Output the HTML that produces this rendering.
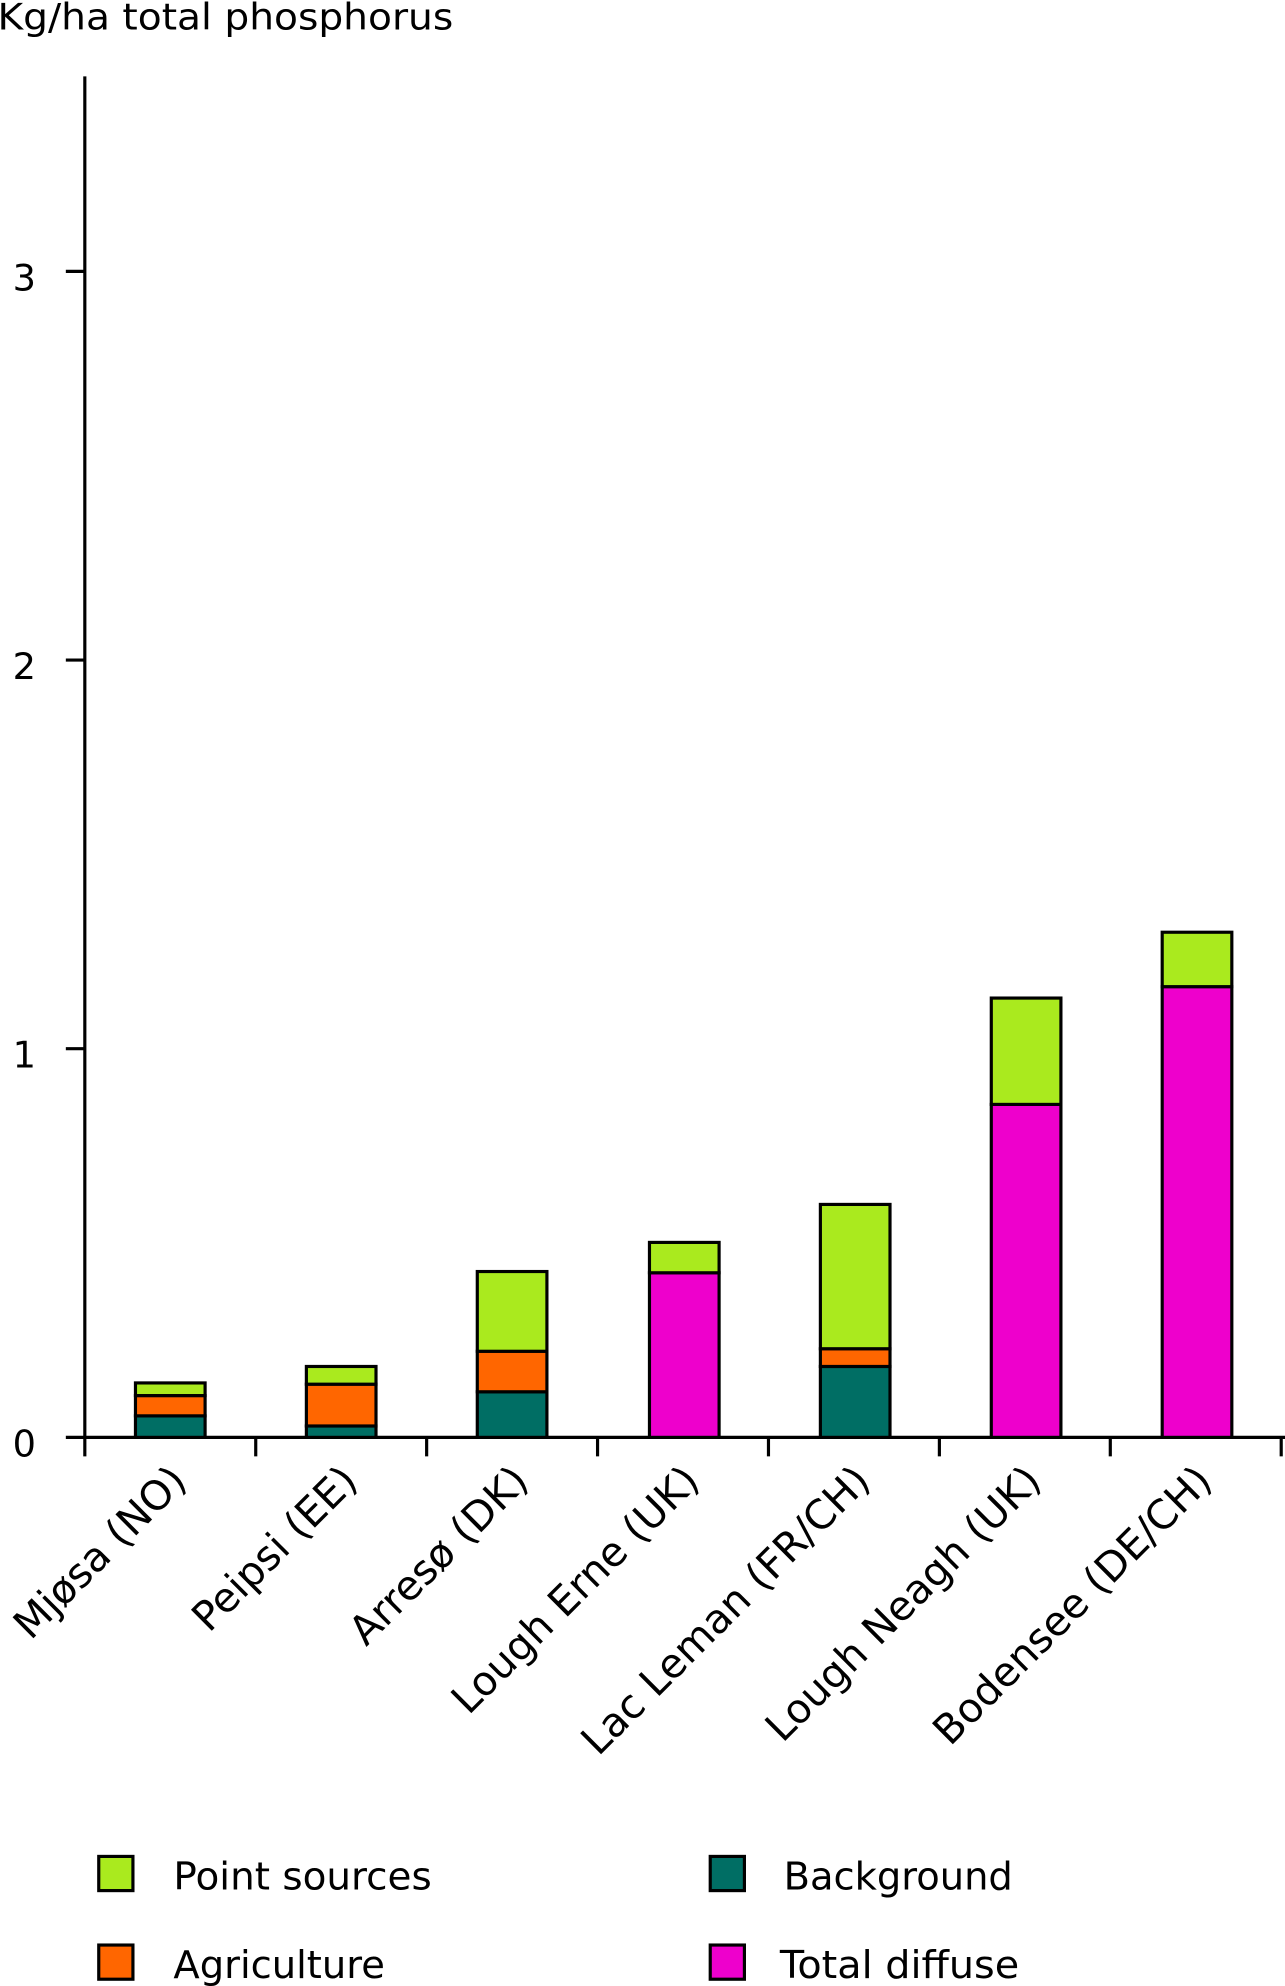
<!DOCTYPE html>
<html><head><meta charset="utf-8"><style>
html,body{margin:0;padding:0;background:#fff;}
svg{display:block;}
text{font-family:"DejaVu Sans","Liberation Sans",sans-serif;fill:#000;}
</style></head><body>
<svg width="1285" height="1986" viewBox="0 0 1015 1568" xmlns="http://www.w3.org/2000/svg">
<text x="-2" y="23" font-size="29" textLength="360" lengthAdjust="spacingAndGlyphs">Kg/ha total phosphorus</text>
<g stroke="#000" stroke-width="2.5" fill="none">
<line x1="67" y1="60" x2="67" y2="1150"/>
<line x1="67" y1="1135" x2="1015" y2="1135"/>
<line x1="52" y1="214" x2="67" y2="214"/>
<line x1="52" y1="521" x2="67" y2="521"/>
<line x1="52" y1="828" x2="67" y2="828"/>
<line x1="52" y1="1135" x2="67" y2="1135"/>
<line x1="202" y1="1135" x2="202" y2="1150"/>
<line x1="337" y1="1135" x2="337" y2="1150"/>
<line x1="472" y1="1135" x2="472" y2="1150"/>
<line x1="607" y1="1135" x2="607" y2="1150"/>
<line x1="742" y1="1135" x2="742" y2="1150"/>
<line x1="877" y1="1135" x2="877" y2="1150"/>
<line x1="1012" y1="1135" x2="1012" y2="1150"/>
</g>
<g font-size="29">
<text x="10" y="229">3</text>
<text x="10" y="536">2</text>
<text x="10" y="843">1</text>
<text x="10" y="1150">0</text>
</g>
<g stroke="#000" stroke-width="2.5">
<rect x="107" y="1118" width="55" height="17" fill="#006e64"/>
<rect x="107" y="1102" width="55" height="16" fill="#ff6600"/>
<rect x="107" y="1092" width="55" height="10" fill="#aaea1e"/>
<rect x="242" y="1126" width="55" height="9" fill="#006e64"/>
<rect x="242" y="1093" width="55" height="33" fill="#ff6600"/>
<rect x="242" y="1079" width="55" height="14" fill="#aaea1e"/>
<rect x="377" y="1099" width="55" height="36" fill="#006e64"/>
<rect x="377" y="1067" width="55" height="32" fill="#ff6600"/>
<rect x="377" y="1004" width="55" height="63" fill="#aaea1e"/>
<rect x="513" y="1005" width="55" height="130" fill="#ee00cc"/>
<rect x="513" y="981" width="55" height="24" fill="#aaea1e"/>
<rect x="648" y="1079" width="55" height="56" fill="#006e64"/>
<rect x="648" y="1065" width="55" height="14" fill="#ff6600"/>
<rect x="648" y="951" width="55" height="114" fill="#aaea1e"/>
<rect x="783" y="872" width="55" height="263" fill="#ee00cc"/>
<rect x="783" y="788" width="55" height="84" fill="#aaea1e"/>
<rect x="918" y="779" width="55" height="356" fill="#ee00cc"/>
<rect x="918" y="736" width="55" height="43" fill="#aaea1e"/>
</g>
<g font-size="32" text-anchor="end">
<text transform="translate(149,1171) rotate(-45)">Mjøsa (NO)</text>
<text transform="translate(284,1171) rotate(-45)">Peipsi (EE)</text>
<text transform="translate(419,1171) rotate(-45)">Arresø (DK)</text>
<text transform="translate(554,1171) rotate(-45)">Lough Erne (UK)</text>
<text transform="translate(689,1171) rotate(-45)">Lac Leman (FR/CH)</text>
<text transform="translate(824,1171) rotate(-45)">Lough Neagh (UK)</text>
<text transform="translate(959,1171) rotate(-45)">Bodensee (DE/CH)</text>
</g>
<g stroke="#000" stroke-width="2.5">
<rect x="78" y="1466" width="27" height="27" fill="#aaea1e"/>
<rect x="78" y="1536" width="27" height="27" fill="#ff6600"/>
<rect x="561" y="1466" width="27" height="27" fill="#006e64"/>
<rect x="561" y="1536" width="27" height="27" fill="#ee00cc"/>
</g>
<g font-size="30">
<text x="137" y="1492" textLength="204" lengthAdjust="spacingAndGlyphs">Point sources</text>
<text x="137" y="1562" textLength="167" lengthAdjust="spacingAndGlyphs">Agriculture</text>
<text x="619" y="1492" textLength="181" lengthAdjust="spacingAndGlyphs">Background</text>
<text x="616" y="1562" textLength="189" lengthAdjust="spacingAndGlyphs">Total diffuse</text>
</g>
</svg>
</body></html>
